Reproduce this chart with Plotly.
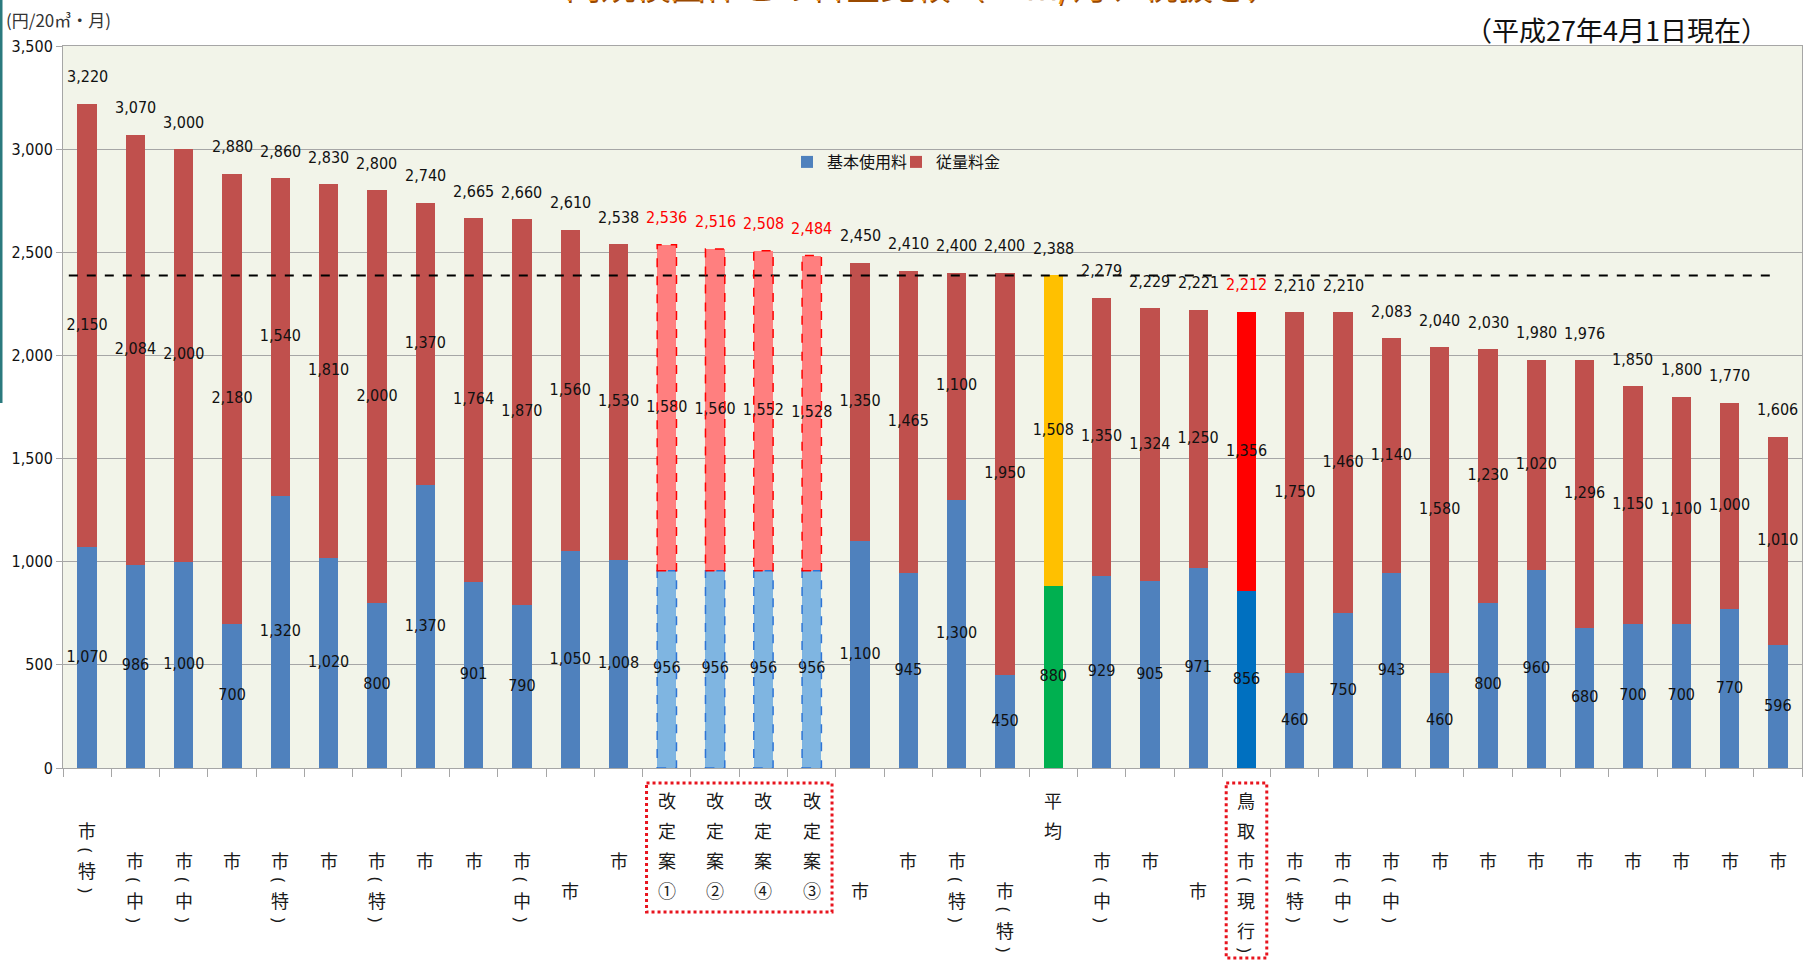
import plotly.graph_objects as go

# ---------------- data ----------------
labels = ["市(特)", "市(中)", "市(中)", "市", "市(特)", "市", "市(特)", "市", "市", "市(中)", "市", "市",
          "改定案①", "改定案②", "改定案④", "改定案③", "市", "市", "市(特)", "市(特)", "平均", "市(中)", "市", "市",
          "鳥取市(現行)", "市(特)", "市(中)", "市(中)", "市", "市", "市", "市", "市", "市", "市", "市"]
basic = [1070, 986, 1000, 700, 1320, 1020, 800, 1370, 901, 790, 1050, 1008,
         956, 956, 956, 956, 1100, 945, 1300, 450, 880, 929, 905, 971,
         856, 460, 750, 943, 460, 800, 960, 680, 700, 700, 770, 596]
usage = [2150, 2084, 2000, 2180, 1540, 1810, 2000, 1370, 1764, 1870, 1560, 1530,
         1580, 1560, 1552, 1528, 1350, 1465, 1100, 1950, 1508, 1350, 1324, 1250,
         1356, 1750, 1460, 1140, 1580, 1230, 1020, 1296, 1150, 1100, 1000, 1010]
series_names = ["基本使用料", "従量料金"]
y_ticks = [0, 500, 1000, 1500, 2000, 2500, 3000, 3500]
unit_label = "(円/20㎥・月)"
date_label = "（平成27年4月1日現在）"
title_text = "同規模団体との料金比較（20㎥/月、税抜き）"

# ---------------- derived ----------------
n = len(labels)
xs = list(range(n))
totals = [b + u for b, u in zip(basic, usage)]
avg_idx = labels.index("平均")
avg_total = totals[avg_idx]

def kind(lbl):
    if lbl.startswith("改定案"):
        return "plan"
    if lbl == "平均":
        return "avg"
    if lbl.startswith("鳥取市"):
        return "current"
    return "other"

kinds = [kind(l) for l in labels]
basic_colors = {"plan": "#7FB5E1", "avg": "#00B050", "current": "#0070C0", "other": "#4F81BD"}
usage_colors = {"plan": "#FF7F7F", "avg": "#FFC000", "current": "#FF0000", "other": "#C0504D"}

NUM_FONT = "Liberation Sans Narrow, DejaVu Sans Condensed, Arial Narrow, sans-serif"
CJK_FONT = "Noto Sans CJK JP, sans-serif"

W, H = 1805, 961
ML, MR, MT, MB = 63, 3, 46, 193
PW, PH = W - ML - MR, H - MT - MB

def px_to_paper_x(px):
    return (px - ML) / PW

def px_to_paper_y(py):
    return (H - MB - py) / PH

def idx_to_paper_x(i):
    return (i + 0.5) / n

fig = go.Figure()
fig.add_trace(go.Bar(x=xs, y=basic, name=series_names[0],
                     marker=dict(color=[basic_colors[k] for k in kinds], line=dict(width=0)),
                     hoverinfo="skip"))
fig.add_trace(go.Bar(x=xs, y=usage, name=series_names[1],
                     marker=dict(color=[usage_colors[k] for k in kinds], line=dict(width=0)),
                     hoverinfo="skip"))

# segment labels at the middle of each segment
fig.add_trace(go.Scatter(x=xs, y=[b / 2 for b in basic], mode="text",
                         text=[f"{v:,}" for v in basic], textposition="middle center",
                         textfont=dict(family=NUM_FONT, size=16, color="#111111"),
                         showlegend=False, cliponaxis=False, hoverinfo="skip"))
fig.add_trace(go.Scatter(x=xs, y=[b + u / 2 for b, u in zip(basic, usage)], mode="text",
                         text=[f"{v:,}" for v in usage], textposition="middle center",
                         textfont=dict(family=NUM_FONT, size=16, color="#111111"),
                         showlegend=False, cliponaxis=False, hoverinfo="skip"))

annotations = []
# totals above bars
for i, t in enumerate(totals):
    red = kinds[i] in ("plan", "current")
    annotations.append(dict(x=i, y=t, xref="x", yref="y", text=f"{t:,}", showarrow=False,
                            yanchor="middle", yshift=27,
                            font=dict(family=NUM_FONT, size=16, color="#FF0000" if red else "#111111")))

# vertical category labels (one character per line, parentheses turned sideways)
row_of = {}
for i, l in enumerate(labels):
    if kinds[i] != "other":
        row_of[i] = 0
    elif i == 0:
        row_of[i] = 1
    elif i in (10, 16, 19, 23):
        row_of[i] = 3
    else:
        row_of[i] = 2
for i, l in enumerate(labels):
    chars = list(l)
    py = 800 + row_of[i] * 30
    for j, c in enumerate(chars):
        if c in "()":
            annotations.append(dict(x=i, y=px_to_paper_y(py), xref="x", yref="paper", text=c,
                                    showarrow=False, xanchor="center", yanchor="middle", textangle=90,
                                    font=dict(family="Noto Sans, sans-serif", size=17, color="#1a1a1a")))
        else:
            annotations.append(dict(x=i, y=px_to_paper_y(py), xref="x", yref="paper", text=c,
                                    showarrow=False, xanchor="center", yanchor="middle",
                                    font=dict(family=CJK_FONT, size=18, color="#1a1a1a")))
        if j + 1 < len(chars):
            nxt = chars[j + 1]
            py += 20 if (c in "()" or nxt in "()") else 30

# unit, date, title
annotations.append(dict(x=px_to_paper_x(4), y=px_to_paper_y(19), xref="paper", yref="paper",
                        text=unit_label, showarrow=False, xanchor="left", yanchor="middle",
                        font=dict(family=CJK_FONT, size=17, color="#333333")))
annotations.append(dict(x=px_to_paper_x(1770), y=px_to_paper_y(30), xref="paper", yref="paper",
                        text=date_label, showarrow=False, xanchor="right", yanchor="middle",
                        font=dict(family=CJK_FONT, size=27, color="#111111")))
for col, sx, sy in (("#9A4A00", 1, -2), ("#F39325", 0, 0)):
    annotations.append(dict(x=px_to_paper_x(923), y=px_to_paper_y(10), xref="paper", yref="paper",
                            text=title_text, showarrow=False, xanchor="center", yanchor="bottom",
                            xshift=sx, yshift=sy,
                            font=dict(family=CJK_FONT, size=35, color=col)))

shapes = []
# average dashed line
shapes.append(dict(type="line", xref="x", yref="y", x0=-0.38, x1=n - 1, y0=avg_total, y1=avg_total,
                   line=dict(color="#000000", width=2, dash="dash")))
# dashed outlines for plan bars
for i in range(n):
    if kinds[i] == "plan":
        shapes.append(dict(type="rect", xref="x", yref="y", x0=i - 0.2, x1=i + 0.2, y0=0, y1=basic[i],
                           line=dict(color="#2E75D6", width=1.5, dash="dash")))
        shapes.append(dict(type="rect", xref="x", yref="y", x0=i - 0.2, x1=i + 0.2, y0=basic[i], y1=totals[i],
                           line=dict(color="#FF0000", width=1.5, dash="dash")))
# dotted boxes around highlighted category labels
plan_idx = [i for i in range(n) if kinds[i] == "plan"]
cur_idx = [i for i in range(n) if kinds[i] == "current"]
shapes.append(dict(type="rect", xref="paper", yref="paper",
                   x0=idx_to_paper_x(min(plan_idx) - 0.42), x1=idx_to_paper_x(max(plan_idx) + 0.42),
                   y0=px_to_paper_y(783), y1=px_to_paper_y(912),
                   line=dict(color="#E8141E", width=3, dash="dot")))
shapes.append(dict(type="rect", xref="paper", yref="paper",
                   x0=idx_to_paper_x(cur_idx[0] - 0.42), x1=idx_to_paper_x(cur_idx[0] + 0.42),
                   y0=px_to_paper_y(783), y1=px_to_paper_y(958),
                   line=dict(color="#E8141E", width=3, dash="dot")))
# teal edge line
shapes.append(dict(type="line", xref="paper", yref="paper",
                   x0=px_to_paper_x(1), x1=px_to_paper_x(1), y0=px_to_paper_y(0), y1=px_to_paper_y(403),
                   line=dict(color="#2B7A7E", width=3)))

fig.update_layout(
    width=W, height=H, barmode="stack", bargap=0.6,
    margin=dict(l=ML, r=MR, t=MT, b=MB),
    paper_bgcolor="#FFFFFF", plot_bgcolor="#F2F4E9",
    annotations=annotations, shapes=shapes,
    legend=dict(orientation="h", x=px_to_paper_x(787), y=px_to_paper_y(162), xanchor="left", yanchor="middle",
                traceorder="normal", bgcolor="rgba(0,0,0,0)", entrywidth=64,
                font=dict(family=CJK_FONT, size=16, color="#111111")),
    showlegend=True,
)
fig.update_xaxes(range=[-0.5, n - 0.5], tickvals=[i - 0.5 for i in range(n + 1)], showticklabels=False,
                 ticks="outside", ticklen=8, tickcolor="#A6A6A6", showgrid=False,
                 showline=True, linecolor="#A6A6A6", mirror=True, zeroline=False, fixedrange=True)
fig.update_yaxes(range=[0, 3500], tickvals=y_ticks, tickformat=",", ticks="outside", ticklen=6,
                 tickcolor="#A6A6A6", showgrid=True, gridcolor="#A6A6A6", gridwidth=1,
                 showline=True, linecolor="#A6A6A6", mirror=True, zeroline=False,
                 tickfont=dict(family=NUM_FONT, size=16, color="#111111"), fixedrange=True)

fig.write_html("out.html", config={"displayModeBar": False},
               post_script="document.body.style.margin='0px';document.body.style.overflow='hidden';")
